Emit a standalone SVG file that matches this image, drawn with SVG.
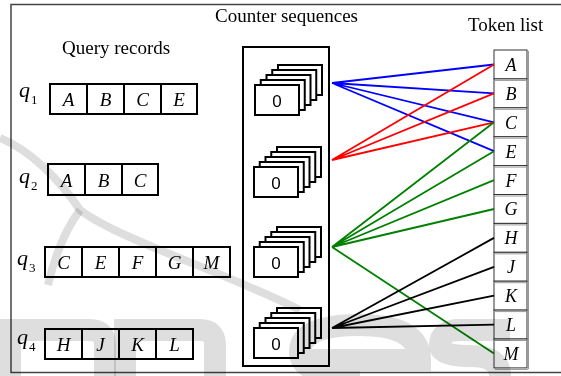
<svg xmlns="http://www.w3.org/2000/svg" width="561" height="376" viewBox="0 0 561 376">
  <style>
    .frame { fill: none; stroke: #444; stroke-width: 1.5; }
    .cell { fill: none; stroke: #000; stroke-width: 2; }
    .lbl { font-family: "Liberation Serif", "Times New Roman", serif; font-style: italic; font-size: 19px; text-anchor: middle; fill: #000; }
    .tl { font-family: "Liberation Serif", "Times New Roman", serif; font-style: italic; font-size: 18px; text-anchor: middle; fill: #000; }
    .title { font-family: "Liberation Serif", "Times New Roman", serif; font-size: 19px; fill: #000; }
    .qv { font-family: "Liberation Serif", "Times New Roman", serif; font-style: italic; font-size: 22px; fill: #000; }
    .qs { font-family: "Liberation Serif", "Times New Roman", serif; font-size: 13px; fill: #000; }
    .card { fill: #fff; stroke: #000; stroke-width: 2; }
    .zero { font-family: "Liberation Sans", Arial, sans-serif; font-size: 17px; text-anchor: middle; fill: #000; }
    .tok { fill: #fff; stroke: #333; stroke-width: 1; }
    .tokshade { fill: none; stroke: #999; stroke-width: 1; }
    .edge { fill: none; stroke-width: 1.8; }
    .blue { stroke: #0000ff; }
    .red { stroke: #ff0000; }
    .green { stroke: #008000; }
    .black { stroke: #000; }
    .wm { fill: none; stroke: #dedede; mix-blend-mode: multiply; }
  </style>
  <defs>
    <!-- stack of five counter cards, front card at the origin -->
    <g id="stack">
      <rect class="card" x="23" y="-20" width="44" height="30"/>
      <rect class="card" x="17.25" y="-15" width="44" height="30"/>
      <rect class="card" x="11.5" y="-10" width="44" height="30"/>
      <rect class="card" x="5.75" y="-5" width="44" height="30"/>
      <rect class="card" x="0" y="0" width="44" height="30"/>
      <text class="zero" x="22" y="21.5">0</text>
    </g>
  </defs>

  <rect width="561" height="376" fill="#fff"/>
  <rect class="frame" x="11" y="4.5" width="560" height="368"/>

  <text class="title" x="62" y="54">Query records</text>
  <text class="title" x="215" y="22">Counter sequences</text>
  <text class="title" x="468" y="31">Token list</text>

  <!-- query records -->
  <g id="q1">
    <text class="qv" x="19" y="97">q</text><text class="qs" x="31" y="104">1</text>
    <rect class="cell" x="50" y="84" width="147" height="30"/>
    <path class="cell" d="M87 84V114M124 84V114M161 84V114"/>
    <text class="lbl" x="68.5" y="105.5">A</text>
    <text class="lbl" x="105.5" y="105.5">B</text>
    <text class="lbl" x="142.5" y="105.5">C</text>
    <text class="lbl" x="179" y="105.5">E</text>
  </g>
  <g id="q2">
    <text class="qv" x="19" y="183">q</text><text class="qs" x="31" y="190">2</text>
    <rect class="cell" x="48" y="164" width="110" height="31"/>
    <path class="cell" d="M85 164V195M122 164V195"/>
    <text class="lbl" x="66.5" y="186.5">A</text>
    <text class="lbl" x="103.5" y="186.5">B</text>
    <text class="lbl" x="140" y="186.5">C</text>
  </g>
  <g id="q3">
    <text class="qv" x="17" y="265">q</text><text class="qs" x="29" y="272">3</text>
    <rect class="cell" x="45" y="247" width="185" height="30"/>
    <path class="cell" d="M82 247V277M119 247V277M156 247V277M193 247V277"/>
    <text class="lbl" x="63.5" y="268.5">C</text>
    <text class="lbl" x="100.5" y="268.5">E</text>
    <text class="lbl" x="137.5" y="268.5">F</text>
    <text class="lbl" x="174.5" y="268.5">G</text>
    <text class="lbl" x="211.5" y="268.5">M</text>
  </g>
  <g id="q4">
    <text class="qv" x="17" y="344">q</text><text class="qs" x="29" y="351">4</text>
    <rect class="cell" x="45" y="329" width="148" height="30"/>
    <path class="cell" d="M82 329V359M119 329V359M156 329V359"/>
    <text class="lbl" x="63.5" y="350.5">H</text>
    <text class="lbl" x="100.5" y="350.5">J</text>
    <text class="lbl" x="137.5" y="350.5">K</text>
    <text class="lbl" x="174.5" y="350.5">L</text>
  </g>

  <!-- counter sequences -->
  <g id="counters">
    <rect class="cell" x="243" y="47" width="86" height="319"/>
    <use href="#stack" x="255" y="85"/>
    <use href="#stack" x="254" y="167"/>
    <use href="#stack" x="254" y="247"/>
    <use href="#stack" x="254" y="328"/>
  </g>

  <!-- token list -->
  <g id="tokens">
    <rect class="tok" x="494" y="50" width="33" height="28.9"/>
    <rect class="tok" x="494" y="78.9" width="33" height="28.9"/>
    <rect class="tok" x="494" y="107.8" width="33" height="28.9"/>
    <rect class="tok" x="494" y="136.7" width="33" height="28.9"/>
    <rect class="tok" x="494" y="165.6" width="33" height="28.9"/>
    <rect class="tok" x="494" y="194.5" width="33" height="28.9"/>
    <rect class="tok" x="494" y="223.4" width="33" height="28.9"/>
    <rect class="tok" x="494" y="252.3" width="33" height="28.9"/>
    <rect class="tok" x="494" y="281.2" width="33" height="28.9"/>
    <rect class="tok" x="494" y="310.1" width="33" height="28.9"/>
    <rect class="tok" x="494" y="339" width="33" height="28.9"/>
    <path class="tokshade" d="M528.5 51V369M495 80.4H527M495 109.3H527M495 138.2H527M495 167.1H527M495 196H527M495 224.9H527M495 253.8H527M495 282.7H527M495 311.6H527M495 340.5H527M495 369.4H528"/>
    <text class="tl" x="511" y="71">A</text>
    <text class="tl" x="511" y="100">B</text>
    <text class="tl" x="511" y="129">C</text>
    <text class="tl" x="511" y="158">E</text>
    <text class="tl" x="511" y="187">F</text>
    <text class="tl" x="511" y="215">G</text>
    <text class="tl" x="511" y="244">H</text>
    <text class="tl" x="511" y="273">J</text>
    <text class="tl" x="511" y="302">K</text>
    <text class="tl" x="511" y="331">L</text>
    <text class="tl" x="511" y="360">M</text>
  </g>

  <!-- links from counter stacks to tokens -->
  <g id="connectors">
    <path class="edge blue" d="M332 83L494 64.5M332 83L494 93.4M332 83L494 122.3M332 83L494 151.2"/>
    <path class="edge red" d="M332 160L494 64.5M332 160L494 93.4M332 160L494 122.3"/>
    <path class="edge green" d="M332 247L494 122.3M332 247L494 151.2M332 247L494 180.1M332 247L494 209M332 247L494 353.5"/>
    <path class="edge black" d="M332 328L494 237.9M332 328L494 266.8M332 328L494 295.7M332 328L494 324.6"/>
  </g>

  <!-- faint publisher mark across the lower part -->
  <g id="mark">
    <path class="wm" stroke-width="8" d="M0 138C30 150 60 180 80 210C120 240 220 270 300 310"/>
    <path class="wm" stroke-width="8" d="M80 210C65 230 55 255 48 285"/>
    <path class="wm" stroke-width="22" d="M10 376V330H90Q105 330 105 345V376"/>
    <path class="wm" stroke-width="22" d="M125 376V330H200Q215 330 215 345V376"/>
    <path class="wm" stroke-width="22" d="M300 360H420Q420 325 360 325Q300 325 300 352Q300 376 360 376"/>
    <path class="wm" stroke-width="22" d="M510 330H460Q440 330 440 345Q440 356 470 356Q500 356 500 376"/>
  </g>
</svg>
